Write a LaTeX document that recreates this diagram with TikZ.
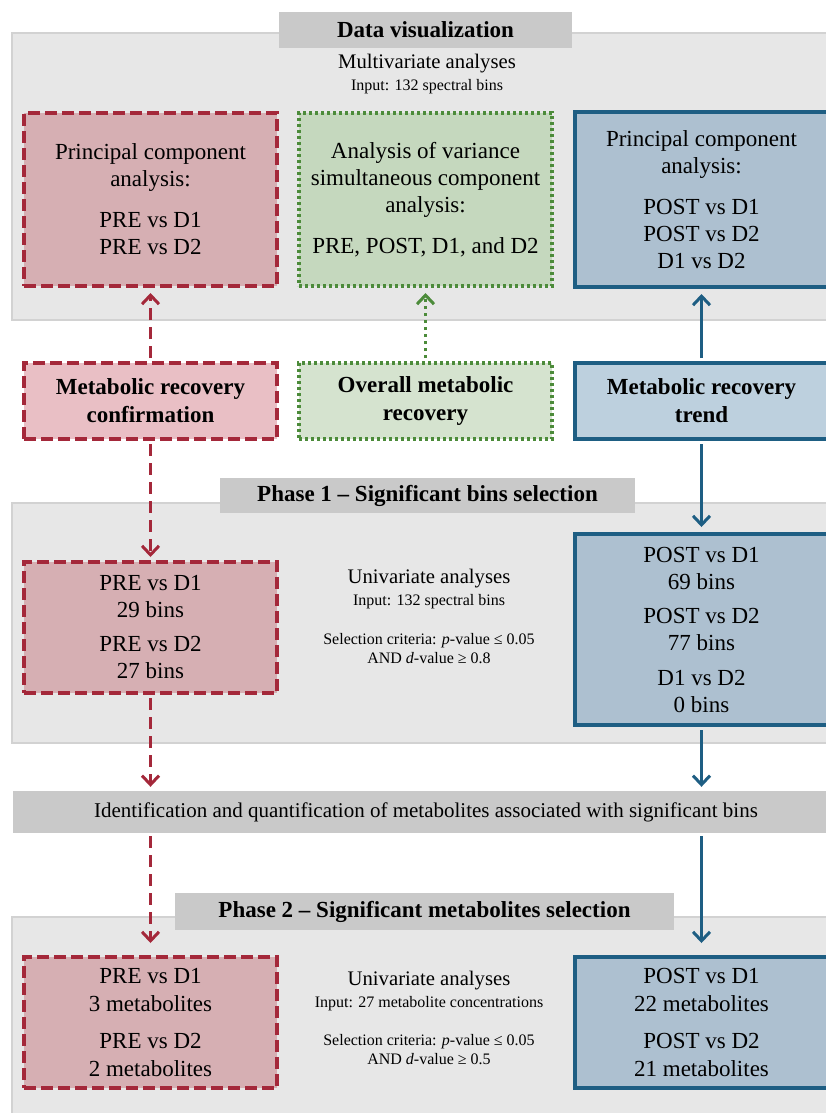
\documentclass[tikz,border=0pt]{standalone}
\usepackage{fontspec}
\setmainfont{Liberation Serif}
\usetikzlibrary{arrows.meta}
\definecolor{redline}{HTML}{A4283A}
\definecolor{redfill}{HTML}{D6AFB3}
\definecolor{redlight}{HTML}{E9BFC5}
\definecolor{greenline}{HTML}{4C8B3A}
\definecolor{greenfill}{HTML}{C5D8BE}
\definecolor{greenlight}{HTML}{D5E3CF}
\definecolor{blueline}{HTML}{1E5E83}
\definecolor{bluefill}{HTML}{ADC0D0}
\definecolor{bluelight}{HTML}{BDD0DE}
\definecolor{panelfill}{HTML}{E7E7E7}
\definecolor{panelline}{HTML}{D2D2D2}
\definecolor{tabfill}{HTML}{C9C9C9}

\begin{document}
\begin{tikzpicture}[x=1pt,y=-1pt,
  every node/.style={font=\fontsize{23}{27}\selectfont},
  panel/.style={draw=panelline,line width=2pt,fill=panelfill},
  tab/.style={fill=tabfill,font=\fontsize{23}{27}\selectfont\bfseries,inner sep=0pt},
  box/.style={minimum width=253pt,align=center,line width=4pt,inner sep=0pt},
  redbox/.style={box,draw=redline,fill=redfill,dash pattern=on 12pt off 5pt},
  greenbox/.style={box,draw=greenline,fill=greenfill,dash pattern=on 3pt off 3pt},
  bluebox/.style={box,draw=blueline,fill=bluefill},
  goal/.style={font=\fontsize{23}{28}\selectfont\bfseries,minimum height=76pt},
  head/.style={anchor=base,font=\fontsize{20.7}{24}\selectfont},
  small/.style={anchor=base,font=\fontsize{16}{19}\selectfont},
  arr/.style={line width=3pt,shorten <=3pt,-{Straight Barb[length=9pt,width=17pt]}},
  redarr/.style={arr,draw=redline,dash pattern=on 12pt off 7pt},
  greenarr/.style={arr,draw=greenline,dash pattern=on 3pt off 4pt},
  bluearr/.style={arr,draw=blueline}]
  \useasboundingbox (0,0) rectangle (826,1113);
  \clip (0,0) rectangle (826,1113);
  \fill[white] (0,0) rectangle (826,1113);

  % panels
  \draw[panel] (12,33) rectangle (845,320);
  \draw[panel] (12,503) rectangle (845,743);
  \draw[panel] (12,917) rectangle (845,1130);

  % data visualization
  \node[tab,minimum width=293pt,minimum height=36pt] (dvtab) at (425.5,30) {Data visualization};
  \node[head] (multi) at (427,69) {Multivariate analyses};
  \node[small] (multin) at (427,91) {Input: 132 spectral bins};
  \node[redbox,minimum height=173pt] (pcared) at (150.5,199.5)
    {Principal component\\analysis:\\[14pt]PRE vs D1\\PRE vs D2};
  \node[greenbox,minimum height=173pt] (asca) at (425.5,199.5)
    {Analysis of variance\\simultaneous component\\analysis:\\[14pt]PRE, POST, D1, and D2};
  \node[bluebox,minimum height=175pt] (pcablue) at (701.5,199.5)
    {Principal component\\analysis:\\[14pt]POST vs D1\\POST vs D2\\D1 vs D2};

  % aims
  \node[redbox,goal,fill=redlight] (confirm) at (150.5,401) {Metabolic recovery\\confirmation};
  \node[greenbox,goal,fill=greenlight] (overall) at (425.5,401) {Overall metabolic\\recovery};
  \node[bluebox,goal,fill=bluelight] (trend) at (701.5,401) {Metabolic recovery\\trend};

  % phase 1
  \node[tab,minimum width=415pt,minimum height=35pt] (ph1tab) at (427.5,495.5) {Phase 1 -- Significant bins selection};
  \node[redbox,minimum height=131pt] (binsred) at (150.5,627.5)
    {PRE vs D1\\29 bins\\[7pt]PRE vs D2\\27 bins};
  \node[bluebox,minimum height=191pt] (binsblue) at (701.5,629.5)
    {POST vs D1\\69 bins\\[7pt]POST vs D2\\77 bins\\[8pt]D1 vs D2\\0 bins};
  \node[head] (uni1) at (429,583) {Univariate analyses};
  \node[small] (uni1in) at (429,605) {Input: 132 spectral bins};
  \node[small] (crit1) at (429,644) {Selection criteria: \textit{p}-value ≤ 0.05};
  \node[small] (crit1b) at (429,663) {AND \textit{d}-value ≥ 0.8};

  % identification
  \node[fill=tabfill,minimum width=826pt,minimum height=42pt,inner sep=0pt,
    font=\fontsize{21}{24}\selectfont] (ident) at (426,812)
    {Identification and quantification of metabolites associated with significant bins};

  % phase 2
  \node[tab,minimum width=499pt,minimum height=37pt] (ph2tab) at (424.5,911.5) {Phase 2 -- Significant metabolites selection};
  \node[redbox,minimum height=131pt,font=\fontsize{23}{28.5}\selectfont] (metred) at (150.5,1022.5)
    {PRE vs D1\\3 metabolites\\[8pt]PRE vs D2\\2 metabolites};
  \node[bluebox,minimum height=131pt,font=\fontsize{23}{28.5}\selectfont] (metblue) at (701.5,1022.5)
    {POST vs D1\\22 metabolites\\[8pt]POST vs D2\\21 metabolites};
  \node[head] (uni2) at (429,985) {Univariate analyses};
  \node[small] (uni2in) at (429,1007) {Input: 27 metabolite concentrations};
  \node[small] (crit2) at (429,1045) {Selection criteria: \textit{p}-value ≤ 0.05};
  \node[small] (crit2b) at (429,1064) {AND \textit{d}-value ≥ 0.5};

  % arrows
  \draw[redarr,shorten >=5pt] (confirm) -- (pcared);
  \draw[greenarr,shorten >=5pt] (overall) -- (asca);
  \draw[bluearr,shorten >=5pt] (trend) -- (pcablue);
  \draw[redarr,shorten >=3pt] (confirm) -- (binsred);
  \draw[bluearr,shorten >=5pt] (trend) -- (binsblue);
  \draw[redarr,shorten >=4pt] (binsred) -- (binsred |- ident.north);
  \draw[bluearr,shorten >=4pt] (binsblue) -- (binsblue |- ident.north);
  \draw[redarr,shorten >=12pt] (binsred |- ident.south) -- (metred);
  \draw[bluearr,shorten >=12pt] (binsblue |- ident.south) -- (metblue);
\end{tikzpicture}
\end{document}
